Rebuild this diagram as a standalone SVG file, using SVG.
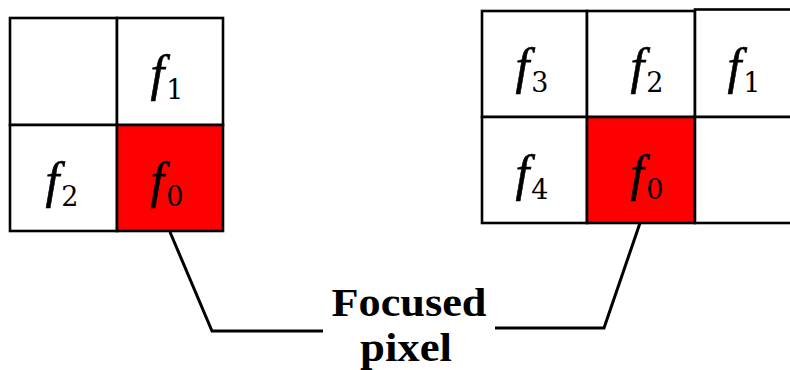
<svg xmlns="http://www.w3.org/2000/svg" width="790" height="370" viewBox="0 0 790 370">
<style>
.cell{fill:#ffffff;stroke:#000000;stroke-width:2.6}
.focus{fill:#ff0000;stroke:#000000;stroke-width:2.6}
.lbl{font-family:"Liberation Serif","Times New Roman",serif;font-size:50px;fill:#000000;text-anchor:middle}
.lbl .v{font-style:italic;stroke:#000000;stroke-width:0.6}
.lbl .s{font-family:"DejaVu Serif",serif;font-size:27px}
.conn{fill:none;stroke:#000000;stroke-width:3;stroke-linejoin:miter}
.cap{font-family:"Liberation Serif","Times New Roman",serif;font-size:41px;font-weight:bold;fill:#000000;text-anchor:middle}
</style>
<rect width="790" height="370" fill="#ffffff"/>
<g id="left-grid">
  <g id="L-empty"><rect class="cell" x="10" y="18" width="107" height="107"/></g>
  <g id="L-f1"><rect class="cell" x="117" y="18" width="106" height="107"/>
    <text class="lbl" x="167" y="90"><tspan class="v">f</tspan><tspan class="s" dx="2" dy="9">1</tspan></text></g>
  <g id="L-f2"><rect class="cell" x="10" y="125" width="107" height="106"/>
    <text class="lbl" x="62" y="197"><tspan class="v">f</tspan><tspan class="s" dx="2" dy="9">2</tspan></text></g>
  <g id="L-f0"><rect class="focus" x="117" y="125" width="106" height="106"/>
    <text class="lbl" x="167" y="197"><tspan class="v">f</tspan><tspan class="s" dx="2" dy="9">0</tspan></text></g>
</g>
<g id="right-grid">
  <g id="R-f3"><rect class="cell" x="482" y="11" width="105" height="106"/>
    <text class="lbl" x="532" y="83"><tspan class="v">f</tspan><tspan class="s" dx="2" dy="9">3</tspan></text></g>
  <g id="R-f2"><rect class="cell" x="587" y="11" width="108" height="106"/>
    <text class="lbl" x="647" y="83"><tspan class="v">f</tspan><tspan class="s" dx="2" dy="9">2</tspan></text></g>
  <g id="R-f1"><rect class="cell" x="695" y="9.5" width="110" height="107.5"/>
    <text class="lbl" x="744" y="83"><tspan class="v">f</tspan><tspan class="s" dx="2" dy="9">1</tspan></text></g>
  <g id="R-f4"><rect class="cell" x="482" y="117" width="105" height="106"/>
    <text class="lbl" x="532" y="190"><tspan class="v">f</tspan><tspan class="s" dx="2" dy="9">4</tspan></text></g>
  <g id="R-f0"><rect class="focus" x="587" y="117" width="108" height="106"/>
    <text class="lbl" x="647" y="190"><tspan class="v">f</tspan><tspan class="s" dx="2" dy="9">0</tspan></text></g>
  <g id="R-empty"><rect class="cell" x="695" y="117" width="110" height="106"/></g>
</g>
<g id="connectors">
  <polyline class="conn" points="170,232 212,331 323,331"/>
  <polyline class="conn" points="640,223 604,328 495,328"/>
</g>
<g id="label">
  <text class="cap" x="409" y="316" textLength="155" lengthAdjust="spacingAndGlyphs">Focused</text>
  <text class="cap" x="406" y="361" textLength="92" lengthAdjust="spacingAndGlyphs">pixel</text>
</g>
</svg>
